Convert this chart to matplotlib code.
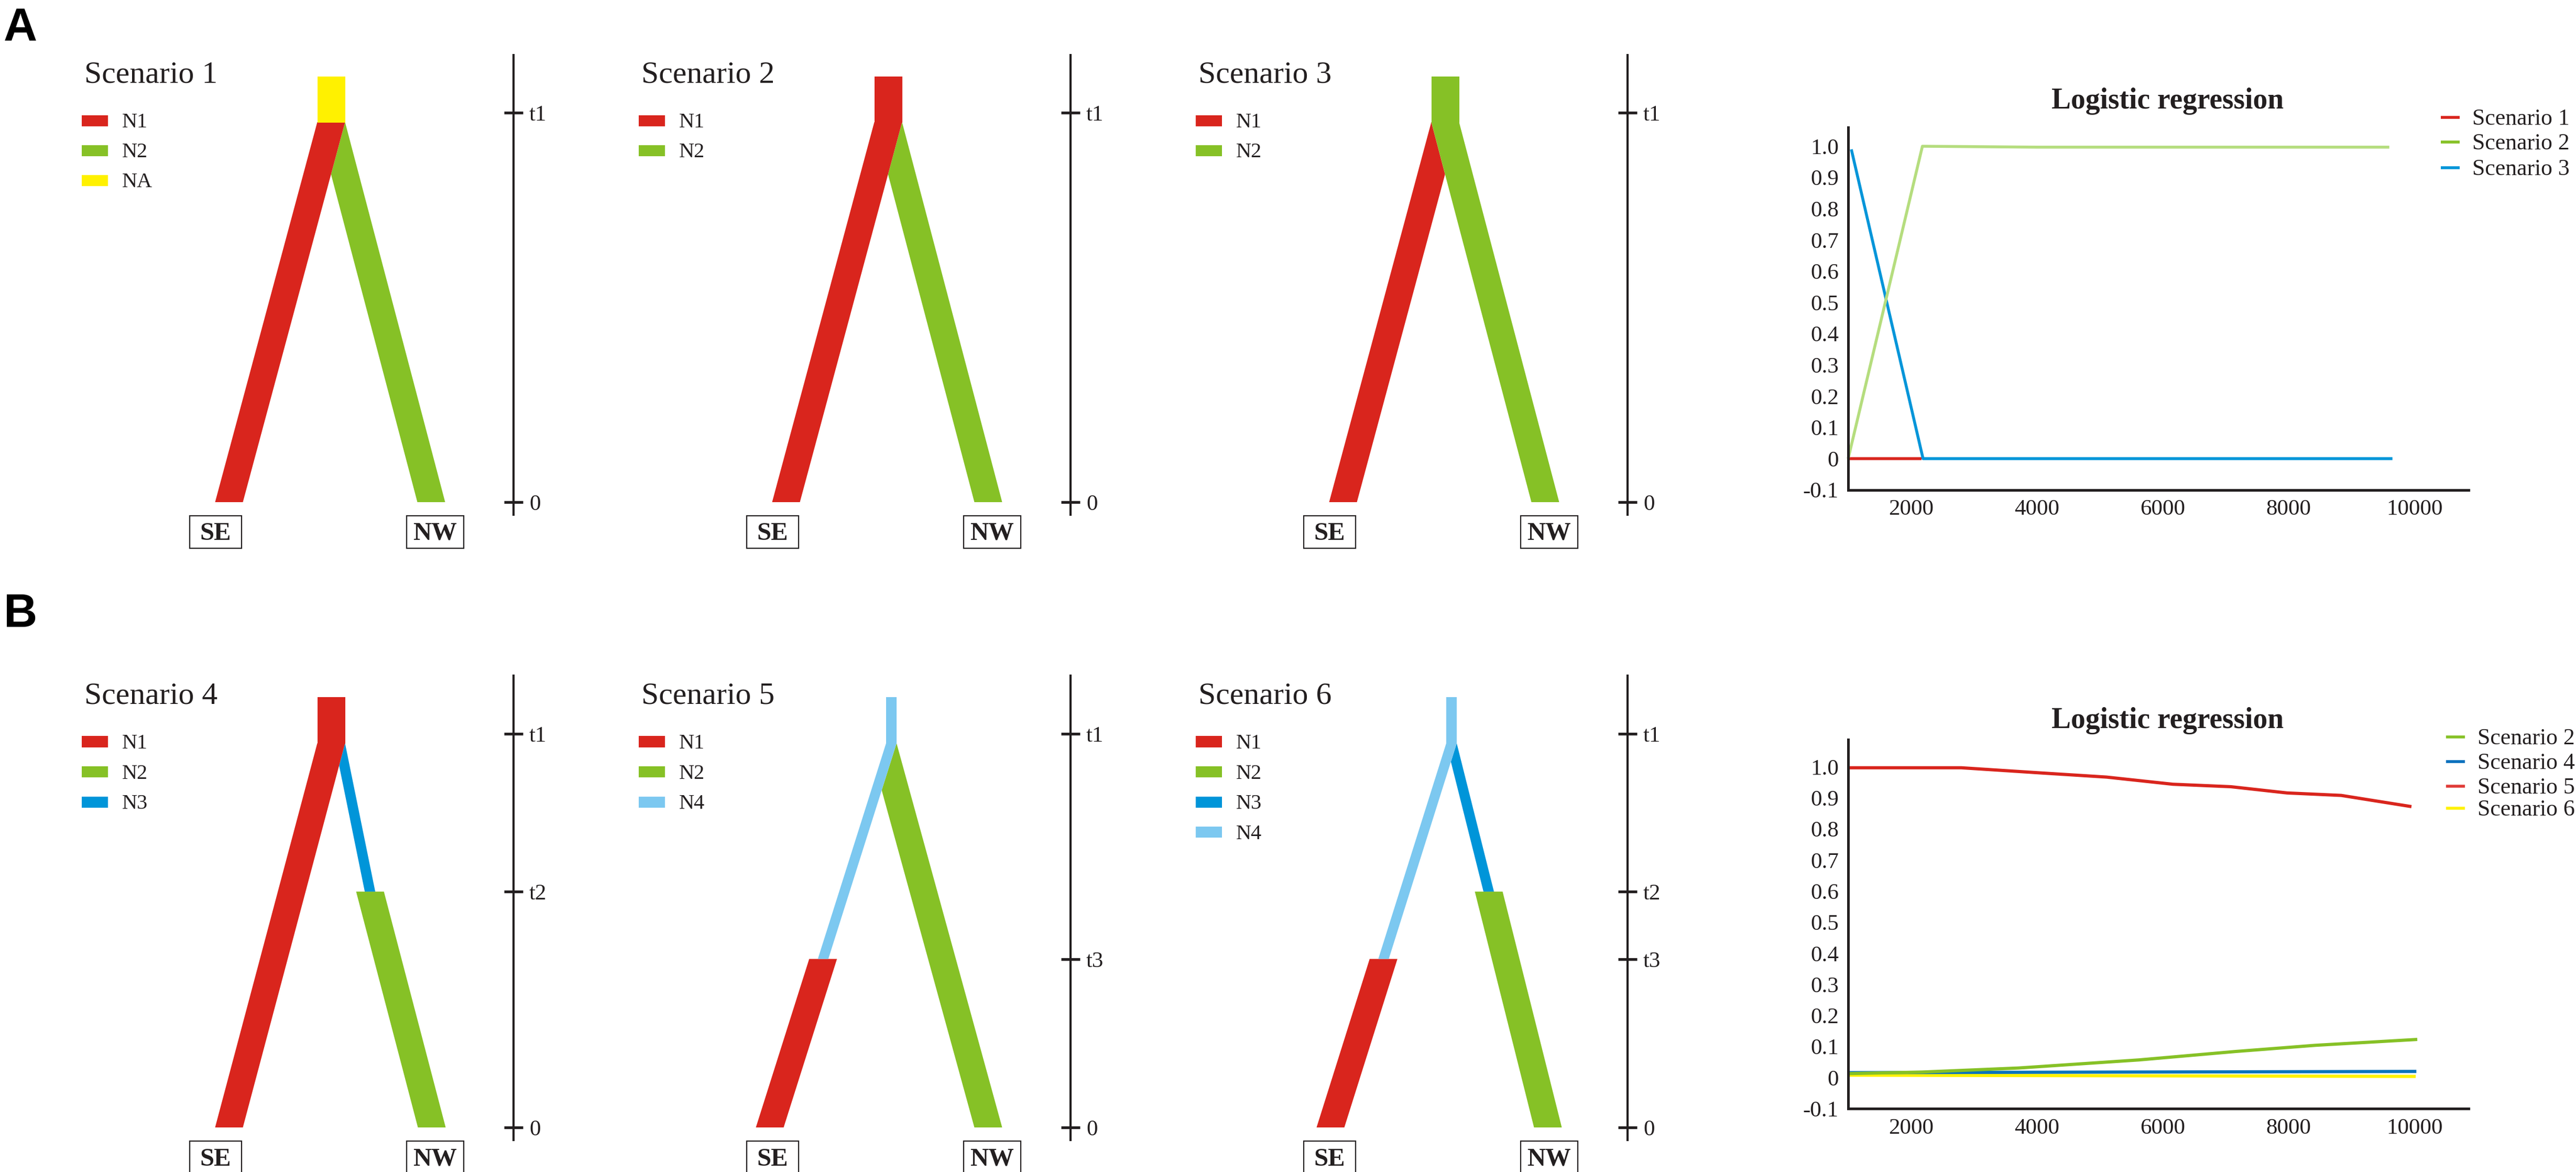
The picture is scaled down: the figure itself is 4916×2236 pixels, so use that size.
import matplotlib
matplotlib.use("Agg")
import matplotlib.pyplot as plt
from matplotlib.patches import Polygon, Rectangle
from matplotlib.lines import Line2D

W, H, DPI = 4916, 2236, 100
plt.rcParams['font.family'] = ['Liberation Serif', 'DejaVu Serif']
INK = '#231f20'

# ---- tree diagrams (times in arbitrary units, 0 = present) ----
pop_colors = {"N1": "#d9251d", "N2": "#86c126", "N3": "#0095d9", "N4": "#7cc8f0", "NA": "#fff100"}
scenarios = ["Scenario 1", "Scenario 2", "Scenario 3", "Scenario 4", "Scenario 5", "Scenario 6"]
legend_pops = [["N1", "N2", "NA"], ["N1", "N2"], ["N1", "N2"],
               ["N1", "N2", "N3"], ["N1", "N2", "N4"], ["N1", "N2", "N3", "N4"]]
root_pop = ["NA", "N1", "N2", "N1", "N4", "N4"]
root_size = ["thick", "thick", "thick", "thick", "thin", "thin"]
T_SPLIT = 725
T_TOP = 812
se_branch = [
    [(0, 725, "N1", "thick")],
    [(0, 725, "N1", "thick")],
    [(0, 725, "N1", "thick")],
    [(0, 725, "N1", "thick")],
    [(0, 318, "N1", "thick"), (318, 725, "N4", "thin")],
    [(0, 318, "N1", "thick"), (318, 725, "N4", "thin")],
]
nw_branch = [
    [(0, 725, "N2", "thick")],
    [(0, 725, "N2", "thick")],
    [(0, 725, "N2", "thick")],
    [(0, 445, "N2", "thick"), (445, 725, "N3", "thin")],
    [(0, 725, "N2", "thick")],
    [(0, 445, "N2", "thick"), (445, 725, "N3", "thin")],
]
on_top = ["SE", "SE", "NW", "SE", "SE", "SE"]
se_tip = [-543, -543, -543, -543, -574, -567]
nw_tip = [-157, -157, -157, -156, -157, -152]
root_x = [-348, -348, -348, -348, -342, -336]
time_ticks = [
    [("0", 0), ("t1", 743)],
    [("0", 0), ("t1", 743)],
    [("0", 0), ("t1", 743)],
    [("0", 0), ("t2", 445), ("t1", 743)],
    [("0", 0), ("t3", 318), ("t1", 743)],
    [("0", 0), ("t3", 318), ("t2", 445), ("t1", 743)],
]

# ---- logistic regression ----
x_ticks = [2000, 4000, 6000, 8000, 10000]
y_ticks = [-0.1, 0, 0.1, 0.2, 0.3, 0.4, 0.5, 0.6, 0.7, 0.8, 0.9, 1.0]
y_labels = ["-0.1", "0", "0.1", "0.2", "0.3", "0.4", "0.5", "0.6", "0.7", "0.8", "0.9", "1.0"]

a_s1_x = [1000, 2170]
a_s1_y = [0.0, 0.0]
a_s2_x = [1000, 2180, 4000, 9600]
a_s2_y = [0.0, 1.0, 0.997, 0.997]
a_s3_x = [1050, 2190, 9650]
a_s3_y = [0.99, 0.0, 0.0]

b_s2_x = [1000, 2174, 3707, 5618, 7146, 8420, 10044]
b_s2_y = [0.013, 0.018, 0.031, 0.057, 0.084, 0.104, 0.123]
b_s4_x = [1000, 10030]
b_s4_y = [0.016, 0.02]
b_s5_x = [1000, 2799, 4090, 5106, 6159, 7083, 7974, 8836, 9952]
b_s5_y = [0.997, 0.997, 0.980, 0.967, 0.944, 0.936, 0.916, 0.908, 0.872]
b_s6_x = [1000, 10020]
b_s6_y = [0.008, 0.004]


def fx(x):
    return x / W


def fy(y):
    return 1 - y / H


fig = plt.figure(figsize=(W / DPI, H / DPI), dpi=DPI)

WIDTH = {"thick": 53, "thin": 20}
col_axis_px = [980, 2043, 3106]
row_zero_px = [958, 2151]
row_yscale = [1.0, 1.011]

for i, name in enumerate(scenarios):
    row, col = divmod(i, 3)
    axp = col_axis_px[col]
    ys = row_yscale[row]
    bot = row_zero_px[row] + 120 * ys
    ax = fig.add_axes([fx(axp - 900), fy(bot), 1050 / W, 1020 * ys / H])
    ax.set_xlim(-900, 150)
    ax.set_ylim(-120, 900)
    ax.axis('off')

    xr = root_x[i]
    sw = WIDTH[root_size[i]]

    def seg(tip, sign, t0, t1, w):
        c0 = tip + (xr - tip) * t0 / T_SPLIT
        if t1 >= T_SPLIT:
            c1 = xr + sign * (sw - w) / 2
        else:
            c1 = tip + (xr - tip) * t1 / T_SPLIT
        return [(c0 - w / 2, t0), (c0 + w / 2, t0), (c1 + w / 2, t1), (c1 - w / 2, t1)]

    lineages = {"SE": (se_tip[i], -1, se_branch[i]), "NW": (nw_tip[i], 1, nw_branch[i])}
    upper = on_top[i]
    lower = "NW" if upper == "SE" else "SE"

    # inner edge of the upper lineage near the root hides the lower one
    tip, sign, parts = lineages[upper]
    t0, t1, pop, size = parts[-1]
    pts = seg(tip, sign, t0, t1, WIDTH[size])
    (xa, ta), (xb, tb) = (pts[1], pts[2]) if upper == "SE" else (pts[0], pts[3])
    xline = lambda t: xa + (xb - xa) * (t - ta) / (tb - ta)
    side = 5000 if upper == "SE" else -5000
    clip = Polygon([(xline(-300), -300), (xline(1100), 1100), (side, 1100), (side, -300)],
                   closed=True, transform=ax.transData)

    for key in [lower, upper]:
        tip, sign, parts = lineages[key]
        for t0, t1, pop, size in parts:
            p = ax.add_patch(Polygon(seg(tip, sign, t0, t1, WIDTH[size]), closed=True,
                                     facecolor=pop_colors[pop], edgecolor='none'))
            if key == lower:
                p.set_clip_path(clip)
    ax.add_patch(Rectangle((xr - sw / 2, T_SPLIT - 1), sw, T_TOP - T_SPLIT + 1,
                           facecolor=pop_colors[root_pop[i]], edgecolor='none'))

    # time axis
    ax.plot([0, 0], [-26, 855], color=INK, lw=3, solid_capstyle='butt', clip_on=False)
    for lab, t in time_ticks[i]:
        ax.plot([-18, 18], [t, t], color=INK, lw=3.8, solid_capstyle='butt', clip_on=False)
        ax.text(30, t - 15, lab, fontsize=31, color=INK, va='baseline', ha='left')

    # title and legend
    ax.text(-819, 800, name, fontsize=43, color=INK, va='baseline', ha='left')
    for k, pop in enumerate(legend_pops[i]):
        yc = 728 - 57 * k
        ax.add_patch(Rectangle((-824, yc - 10.5), 50, 21, facecolor=pop_colors[pop],
                               edgecolor='none', clip_on=False))
        ax.text(-747, yc - 13, pop, fontsize=29, color=INK, va='baseline', ha='left')

    # sampling sites
    for lab, cx, bw in [("SE", -569, 99), ("NW", -150, 109)]:
        ax.add_patch(Rectangle((cx - bw / 2, -88), bw, 62, facecolor='white',
                               edgecolor=INK, lw=1.6, clip_on=False))
        ax.text(cx, -72, lab, fontsize=35, weight='bold', color=INK,
                ha='center', va='baseline')

# panel letters
fig.text(fx(7), fy(78), "A", fontsize=64, weight='bold', family='Liberation Sans',
         color='black', va='baseline')
fig.text(fx(7), fy(1196), "B", fontsize=64, weight='bold', family='Liberation Sans',
         color='black', va='baseline')

panels = [
    dict(zero=875, unit=596, top=1.06, title_y=207,
         series=[(a_s1_x, a_s1_y, '#d9251d'), (a_s3_x, a_s3_y, '#0095d9'),
                 (a_s2_x, a_s2_y, '#b5dd7e')],
         lw=4.0,
         legend=[("Scenario 1", '#d9251d'), ("Scenario 2", '#86c126'), ("Scenario 3", '#0095d9')],
         leg_rows=[224, 271, 320], leg_x=4658),
    dict(zero=2056, unit=593, top=1.088, title_y=1389,
         series=[(b_s6_x, b_s6_y, '#fff200'), (b_s4_x, b_s4_y, '#0a74bb'),
                 (b_s5_x, b_s5_y, '#d9251d'), (b_s2_x, b_s2_y, '#86c126')],
         lw=4.4,
         legend=[("Scenario 2", '#86c126'), ("Scenario 4", '#0a70bd'),
                 ("Scenario 5", '#e03a36'), ("Scenario 6", '#fff200')],
         leg_rows=[1406, 1453, 1500, 1542], leg_x=4668),
]

for p in panels:
    bottom_px = p['zero'] + 0.1 * p['unit']
    height_px = (p['top'] + 0.1) * p['unit']
    ax = fig.add_axes([fx(3527), fy(bottom_px), 1184 / W, height_px / H])
    for xs, vals, c in p['series']:
        ax.plot(xs, vals, color=c, lw=p['lw'], solid_capstyle='butt', clip_on=False)
    ax.set_xlim(1000, 10860)
    ax.set_ylim(-0.1, p['top'])
    ax.set_xticks(x_ticks)
    ax.set_xticklabels([str(v) for v in x_ticks])
    ax.set_yticks(y_ticks)
    ax.set_yticklabels(y_labels)
    ax.tick_params(length=0, labelsize=31, colors=INK, pad=13)
    for s in ['top', 'right']:
        ax.spines[s].set_visible(False)
    for s in ['left', 'bottom']:
        ax.spines[s].set_linewidth(3.6)
        ax.spines[s].set_color(INK)
    fig.text(fx(4137), fy(p['title_y']), "Logistic regression", fontsize=40,
             weight='bold', color=INK, ha='center', va='baseline')
    for (lab, c), r in zip(p['legend'], p['leg_rows']):
        fig.add_artist(Line2D([fx(p['leg_x']), fx(p['leg_x'] + 36)], [fy(r), fy(r)],
                              color=c, lw=4, solid_capstyle='butt'))
        fig.text(fx(p['leg_x'] + 60), fy(r + 14), lab, fontsize=31.5, color=INK,
                 ha='left', va='baseline')

fig.savefig("out.png", dpi=DPI, facecolor='white')
